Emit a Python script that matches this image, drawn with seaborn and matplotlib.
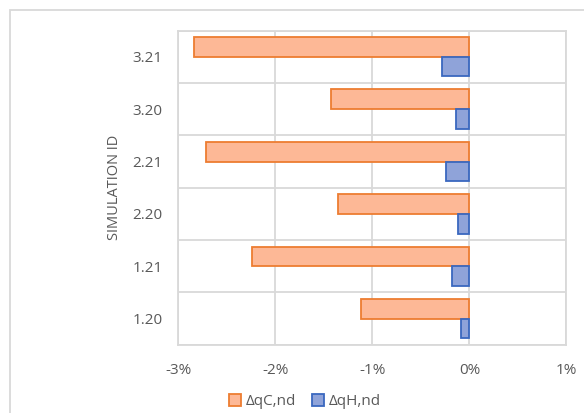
import matplotlib
matplotlib.use("Agg")
import matplotlib.pyplot as plt
from matplotlib.patches import Rectangle, Patch
from matplotlib.ticker import FixedLocator, FuncFormatter
import seaborn as sns
import pandas as pd

# Simulation results: relative change of the non-dimensional loads
simulation_ids = ["3.21", "3.20", "2.21", "2.20", "1.21", "1.20"]
dq_c_nd = [-2.84, -1.43, -2.71, -1.35, -2.24, -1.12]   # percent
dq_h_nd = [-0.28, -0.14, -0.24, -0.12, -0.18, -0.09]   # percent
series_names = ["ΔqC,nd", "ΔqH,nd"]
x_ticks = [-3, -2, -1, 0, 1]

fill_colors = ["#FDB896", "#8FA3D9"]
edge_colors = ["#ED7D31", "#3A68BF"]
grid_color = "#D9D9D9"
text_color = "#595959"

df = pd.DataFrame({
    "sim": simulation_ids * 2,
    "value": dq_c_nd + dq_h_nd,
    "series": [series_names[0]] * len(simulation_ids) + [series_names[1]] * len(simulation_ids),
})

sns.set_theme(style="white")
plt.rcParams["font.family"] = ["Open Sans", "DejaVu Sans"]

fig = plt.figure(figsize=(5.84, 4.13), dpi=100)
ax = fig.add_axes([0.305, 0.165, 0.665, 0.761])

sns.barplot(data=df, y="sim", x="value", hue="series", order=simulation_ids,
            hue_order=series_names, palette=fill_colors, saturation=1, orient="h",
            width=0.75, gap=0, ax=ax, legend=False, zorder=3)

# Outline each bar in its series' darker shade
n = len(simulation_ids)
for i, bar in enumerate(ax.patches[:2 * n]):
    bar.set_edgecolor(edge_colors[i // n])
    bar.set_linewidth(1.3)

ax.set_xlim(-3, 1)
ax.set_ylim(n - 0.5, -0.5)
ax.set_xticks(x_ticks)
ax.xaxis.set_major_formatter(FuncFormatter(lambda v, p: f"{v:.0f}%"))
ax.yaxis.set_minor_locator(FixedLocator([k - 0.5 for k in range(n + 1)]))
ax.grid(True, axis="x", which="major", color=grid_color, linewidth=1.3, zorder=0)
ax.grid(True, axis="y", which="minor", color=grid_color, linewidth=1.3, zorder=0)
ax.grid(False, axis="y", which="major")
ax.tick_params(axis="both", which="both", length=0, labelsize=11, labelcolor=text_color)
ax.tick_params(axis="y", pad=11)
ax.tick_params(axis="x", pad=13)
for s in ax.spines.values():
    s.set_color(grid_color)
    s.set_linewidth(1.3)

ax.set_xlabel("")
ax.set_ylabel("SIMULATION ID", fontsize=10.5, color=text_color)
ax.yaxis.set_label_coords(-0.145, 0.5)

handles = [Patch(facecolor=fill_colors[k], edgecolor=edge_colors[k], linewidth=1.3)
           for k in range(2)]
fig.legend(handles, series_names, loc="center", bbox_to_anchor=(0.522, 0.027),
           ncol=2, frameon=False, fontsize=11, labelcolor=text_color,
           handlelength=0.8, handleheight=0.8, handletextpad=0.3, columnspacing=1.0)

# Chart area frame
fig.add_artist(Rectangle((10 / 584, -0.05), 1.0, 0.976 + 0.05, transform=fig.transFigure,
                         fill=False, edgecolor=grid_color, linewidth=1.3))

fig.savefig("out.png", dpi=100)
